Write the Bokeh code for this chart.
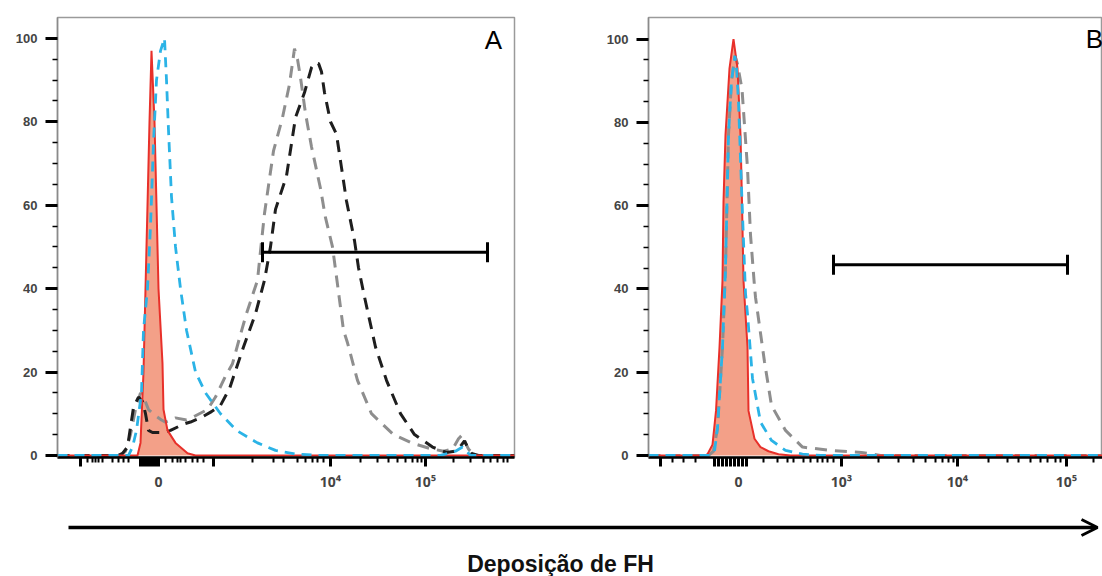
import math
from bokeh.plotting import figure
from bokeh.models import FixedTicker, Range1d, Label, Arrow, OpenHead, ColumnDataSource
from bokeh.layouts import column, row
from bokeh.embed import file_html
from bokeh.resources import INLINE

# ---------------- data (x in display channel units, y in % of max) ----------------
# Panel A
a_red_x = [0, 80, 83, 86, 88, 90, 92, 94, 97, 99, 101, 105, 106, 110, 118, 130, 138, 457]
a_red_y = [0, 0, 3, 20, 40, 60, 80, 97, 80, 60, 40, 22, 11, 6, 3, 0.5, 0, 0]

a_blue_x = [0, 71, 75, 79, 84, 86, 90, 93, 96, 99, 103, 107, 109, 111, 114, 118, 123, 129, 138,
            148, 163, 179, 200, 218, 239, 263, 383, 398, 405, 413, 457]
a_blue_y = [0, 0, 2, 6, 15, 30, 40, 55, 75, 90, 97, 100, 90, 78, 62, 50, 40, 30, 20,
            15, 10, 6, 3, 1.2, 0.3, 0, 0, 1, 2, 0, 0]

a_black_x = [0, 61, 65, 70, 76, 81, 85, 88, 91, 95, 106, 113, 126, 133, 143, 154, 163, 172, 179,
             186, 198, 207, 213, 218, 229, 238, 247, 254, 257, 261, 264, 267, 273, 279, 284, 289,
             297, 301, 307, 318, 329, 343, 357, 375, 389, 398, 404, 407, 410, 414, 421, 457]
a_black_y = [0, 0, 0.5, 2, 11.5, 14, 13, 10, 6, 5.5, 5.5, 6, 7.5, 8, 9, 10.5, 12, 16, 21,
             26, 34, 42, 50, 59, 67, 81, 87, 93, 94, 94, 92, 87, 80, 77, 69, 61,
             51.5, 45, 38, 26, 18, 10, 5, 2, 0.7, 1, 2.5, 3.5, 2, 0.5, 0, 0]

a_gray_x = [0, 63, 68, 73, 78, 83, 86, 91, 98, 104, 108, 118, 129, 138, 150, 158, 168, 175,
            183, 189, 200, 203, 207, 216, 225, 232, 237, 240, 243, 248, 254, 263, 268, 275,
            280, 286, 290, 300, 314, 336, 354, 372, 386, 395, 401, 405, 408, 411, 418, 457]
a_gray_y = [0, 0, 1, 5, 11, 15, 14, 11, 9.5, 8.5, 8, 9, 8.5, 9.5, 11, 14, 19, 22,
            29, 34, 42, 49, 58, 73, 81, 89, 97.5, 95, 90.6, 82, 74, 64, 57, 50,
            41, 30, 27, 18, 10, 5, 3, 1.7, 1, 1.5, 4, 5, 3, 1.5, 0, 0]

a_gate_x = [205, 430]
a_gate_y = 48.7

# Panel B
b_red_x = [0, 57, 59, 64, 67.5, 71, 74, 75, 77, 81, 85, 89, 92, 93.5, 95, 99, 100, 106, 112,
           120, 130, 142, 454]
b_red_y = [0, 0, 0.3, 2.6, 10.7, 26, 42, 61, 77, 93, 100, 93, 77, 61, 42, 26, 10.7, 4, 2,
           1, 0.3, 0, 0]

b_blue_x = [0, 62, 66, 69, 74, 77, 80, 83, 86.5, 88, 90, 93.5, 97, 99, 104, 112, 123, 137, 154, 172, 454]
b_blue_y = [0, 0, 1, 6.6, 26, 45, 77, 90, 96, 93, 85, 61, 39, 34, 18.5, 8, 3.6, 1.2, 0.3, 0, 0]

b_gray_x = [0, 60, 65, 69, 74, 77, 80, 83, 86.5, 89, 93.5, 99, 102, 106, 107, 116, 123, 137,
            154, 182, 213, 232, 454]
b_gray_y = [0, 0, 1, 6.6, 26, 45, 77, 90, 96, 94, 88, 69, 53, 40.6, 38, 22.5, 12, 6,
            2, 1.2, 0.7, 0, 0]

b_gate_x = [185, 419]
b_gate_y = 45.8

# ---------------- axes ticks ----------------
y_major = [0, 20, 40, 60, 80, 100]
y_minor = [5, 10, 15, 25, 30, 35, 45, 50, 55, 65, 70, 75, 85, 90, 95]

a_x_major = [23, 83, 86, 89, 92, 95, 98, 101, 156, 273, 368]
a_x_labels = {101: "0", 273: "10⁴", 368: "10⁵"}
a_x_minor = [30, 35, 38, 41, 45, 55, 61, 66, 71, 108, 115, 120, 123, 128, 135, 140, 146,
             195, 216, 226, 240, 248, 255, 260, 266, 303, 320, 331, 340, 348, 355, 360, 364,
             396, 413, 426, 433, 440, 446, 450]

b_x_major = [12, 66, 70, 74, 78, 82, 86, 90, 94, 98, 193, 309, 418]
b_x_labels = {90: "0", 193: "10³", 309: "10⁴", 418: "10⁵"}
b_x_minor = [24, 35, 47, 115, 129, 139, 145, 155, 162, 169, 174, 179, 185,
             230, 250, 265, 277, 287, 294, 300, 305, 340, 359, 370, 382, 392, 399, 407, 412, 445]

RED = "#E8302A"
FILL = "#F3A088"
BLUE = "#2BB3E6"
BLACK = "#1E1E1E"
GRAY = "#8E8E8E"
FONT = "Liberation Sans"
XFONT = "Noto Sans"


def make_panel(width, height, left, right, top, bottom, xr, yr, red, blue, gray, black,
               gate_x, gate_y, xmaj, xlab, xmin, letter, letter_xy):
    p = figure(width=width, height=height, output_backend="svg", toolbar_location=None,
               x_range=Range1d(*xr), y_range=Range1d(*yr),
               min_border_left=left, min_border_right=right,
               min_border_top=top, min_border_bottom=bottom)
    p.grid.visible = False
    p.background_fill_color = "white"
    p.border_fill_color = "white"
    p.outline_line_color = "#9a9a9a"
    p.outline_line_width = 1.5

    # red filled histogram
    src = ColumnDataSource(dict(x=red[0], y=red[1]))
    p.varea(x="x", y1=0, y2="y", source=src, fill_color=FILL, fill_alpha=1.0)
    if gray is not None:
        p.line(gray[0], gray[1], line_color=GRAY, line_width=3, line_dash="12 8")
    if black is not None:
        p.line(black[0], black[1], line_color=BLACK, line_width=3, line_dash="12 8")
    p.line("x", "y", source=src, line_color=RED, line_width=2)
    p.line(blue[0], blue[1], line_color=BLUE, line_width=2.8, line_dash="10 7")

    # gate
    p.segment(x0=[gate_x[0]], y0=[gate_y], x1=[gate_x[1]], y1=[gate_y],
              line_color="black", line_width=3)
    p.scatter(x=gate_x, y=[gate_y, gate_y], marker="dash", angle=math.pi / 2, size=20,
              line_color="black", line_width=3)

    p.add_layout(Label(x=letter_xy[0], y=letter_xy[1], text=letter, text_align="center",
                       text_baseline="middle", text_font=FONT, text_font_size="26px",
                       text_color="black"))

    # x axis
    xa = p.xaxis[0]
    xa.ticker = FixedTicker(ticks=xmaj, minor_ticks=xmin)
    ov = {t: "" for t in xmaj}
    ov.update(xlab)
    xa.major_label_overrides = ov
    xa.axis_line_color = "black"
    xa.axis_line_width = 2.5
    xa.major_tick_in = 0
    xa.major_tick_out = 9
    xa.major_tick_line_width = 3
    xa.minor_tick_in = 0
    xa.minor_tick_out = 5
    xa.minor_tick_line_width = 2
    xa.major_label_standoff = 5
    xa.major_label_text_font = XFONT
    xa.major_label_text_font_size = "14px"
    xa.major_label_text_font_style = "bold"
    xa.major_label_text_color = "#444444"

    ya = p.yaxis[0]
    ya.ticker = FixedTicker(ticks=y_major, minor_ticks=y_minor)
    ya.axis_line_color = "#8a8a8a"
    ya.axis_line_width = 1.5
    ya.major_tick_in = 0
    ya.major_tick_out = 12
    ya.major_tick_line_width = 3
    ya.minor_tick_in = 0
    ya.minor_tick_out = 5
    ya.minor_tick_line_width = 1.5
    ya.major_label_standoff = 8
    ya.major_label_text_font = FONT
    ya.major_label_text_font_size = "13px"
    ya.major_label_text_font_style = "bold"
    ya.major_label_text_color = "#444444"
    return p


pA = make_panel(560, 505, 57, 46, 17, 48, (0, 457), (-0.5, 105.0),
                (a_red_x, a_red_y), (a_blue_x, a_blue_y), (a_gray_x, a_gray_y),
                (a_black_x, a_black_y), a_gate_x, a_gate_y,
                a_x_major, a_x_labels, a_x_minor, "A", (436, 99.5))

pB = make_panel(542, 505, 88, 0, 15, 45, (0, 454), (-0.5, 105.2),
                (b_red_x, b_red_y), (b_blue_x, b_blue_y), (b_gray_x, b_gray_y),
                None, b_gate_x, b_gate_y,
                b_x_major, b_x_labels, b_x_minor, "B", (446, 100))

# bottom: arrow + axis title
pC = figure(width=1102, height=71, output_backend="svg", toolbar_location=None,
            x_range=Range1d(0, 1102), y_range=Range1d(71, 0),
            min_border=0)
pC.axis.visible = False
pC.grid.visible = False
pC.outline_line_color = None
pC.add_layout(Arrow(end=OpenHead(size=16, line_width=3, line_color="black"),
                    x_start=68, y_start=22, x_end=1097, y_end=22,
                    line_width=3.5, line_color="black"))
pC.add_layout(Label(x=560, y=58, text="Deposição de FH", text_align="center",
                    text_baseline="middle", text_font=FONT, text_font_size="23px",
                    text_font_style="bold", text_color="#111111"))

layout = column(row(pA, pB), pC)
open("out.html", "w").write(file_html(layout, INLINE))
